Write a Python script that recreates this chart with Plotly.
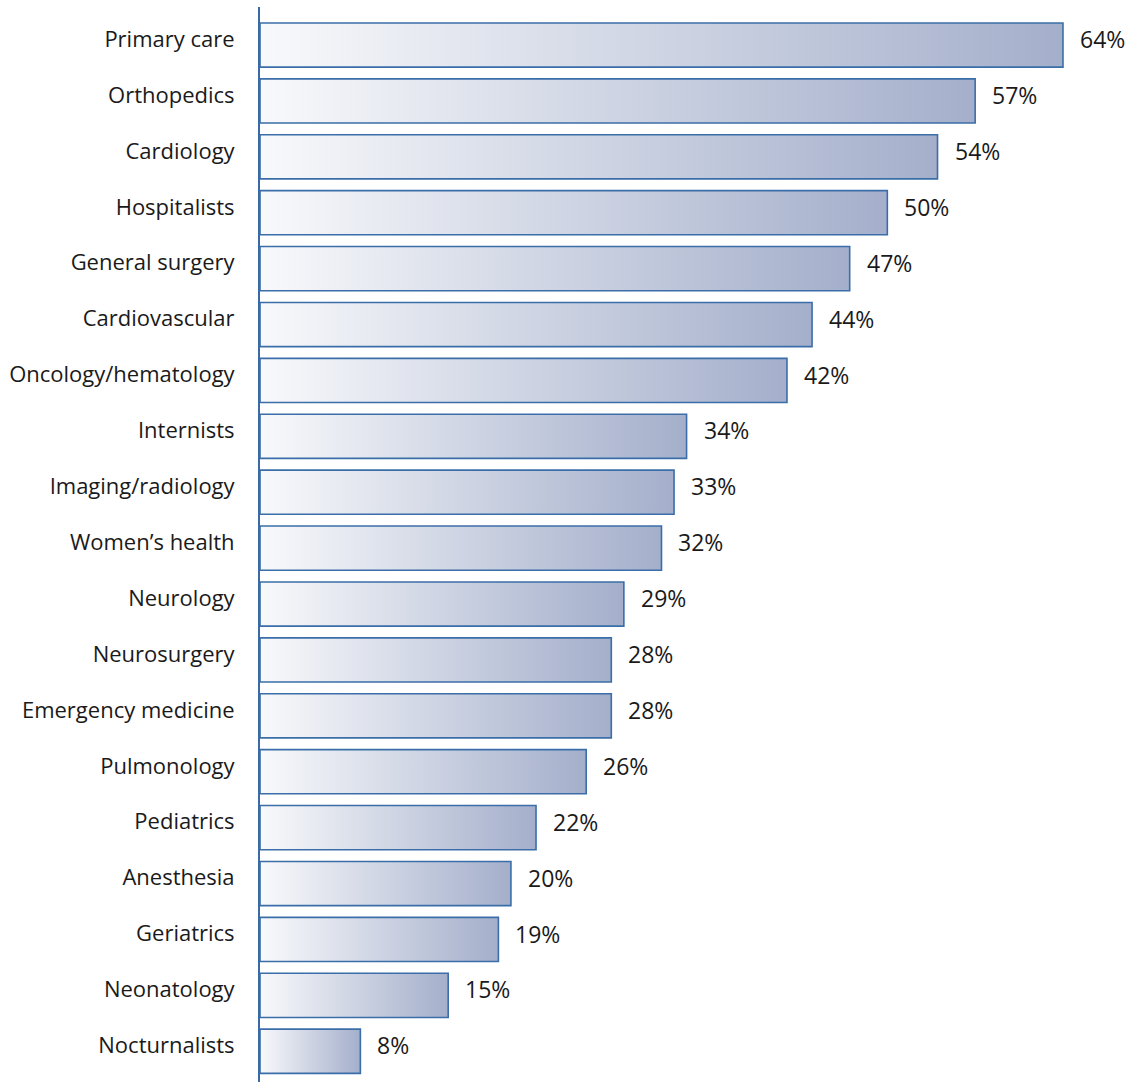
import plotly.graph_objects as go

categories = ["Primary care", "Orthopedics", "Cardiology", "Hospitalists", "General surgery",
              "Cardiovascular", "Oncology/hematology", "Internists", "Imaging/radiology",
              "Women\u2019s health", "Neurology", "Neurosurgery", "Emergency medicine",
              "Pulmonology", "Pediatrics", "Anesthesia", "Geriatrics", "Neonatology",
              "Nocturnalists"]
values = [64, 57, 54, 50, 47, 44, 42, 34, 33, 32, 29, 28, 28, 26, 22, 20, 19, 15, 8]

OUTLINE = "#3b6ea8"
FONT = "Open Sans, Noto Sans, sans-serif"
HALF = 0.395
D = 0.105  # bars sit slightly below their label line

fig = go.Figure()

# gradient fills for each bar
for i, (c, v) in enumerate(zip(categories, values)):
    fig.add_trace(go.Scatter(
        x=[0, v, v, 0, 0],
        y=[i - HALF + D, i - HALF + D, i + HALF + D, i + HALF + D, i - HALF + D],
        mode="lines", fill="toself",
        line=dict(color=OUTLINE, width=1.6),
        fillgradient=dict(type="horizontal",
                          colorscale=[[0, "#f8f9fb"], [1, "#a4afcb"]]),
        hoverinfo="skip", showlegend=False,
    ))

# invisible bar trace carrying data
fig.add_trace(go.Bar(
    x=values, y=list(range(len(categories))), orientation="h",
    marker=dict(color="rgba(0,0,0,0)", line=dict(width=0)),
    width=2 * HALF, offset=-HALF + D, showlegend=False, hoverinfo="x",
))

for i, v in enumerate(values):
    fig.add_annotation(x=v, y=i, text=f"{v}%", showarrow=False,
                       xanchor="left", xshift=15, yanchor="middle",
                       font=dict(size=23, color="#1a1a1a", family=FONT))

fig.update_layout(
    width=1135, height=1082,
    margin=dict(l=260, r=0, t=7, b=0),
    paper_bgcolor="white", plot_bgcolor="white",
    xaxis=dict(range=[0, 69.74], visible=False, fixedrange=True),
    yaxis=dict(range=[18.55 + D, -0.68 + D], tickmode="array",
               tickvals=list(range(len(categories))), ticktext=categories,
               showgrid=False, zeroline=False, showline=True,
               linecolor="#3a6aa5", linewidth=2, ticks="", ticklabelstandoff=19,
               tickfont=dict(size=22, color="#1a1a1a", family=FONT)),
)

fig.write_html("out.html")
